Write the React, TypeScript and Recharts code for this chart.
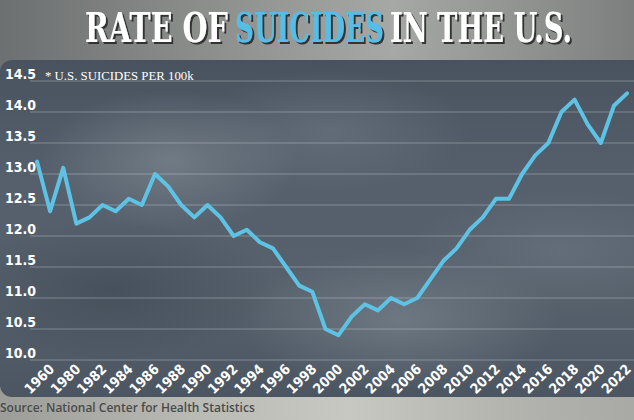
import { LineChart, Line, XAxis, YAxis, CartesianGrid } from "recharts";

// age-adjusted suicide rate per 100k
const YEARS = [
  1950, 1960, 1970, 1980, 1981, 1982, 1983, 1984, 1985, 1986, 1987, 1988,
  1989, 1990, 1991, 1992, 1993, 1994, 1995, 1996, 1997, 1998, 1999, 2000,
  2001, 2002, 2003, 2004, 2005, 2006, 2007, 2008, 2009, 2010, 2011, 2012,
  2013, 2014, 2015, 2016, 2017, 2018, 2019, 2020, 2021, 2022,
];

const RATES = [
  13.2, 12.4, 13.1, 12.2, 12.3, 12.5, 12.4, 12.6, 12.5, 13.0, 12.8, 12.5,
  12.3, 12.5, 12.3, 12.0, 12.1, 11.9, 11.8, 11.5, 11.2, 11.1, 10.5, 10.4,
  10.7, 10.9, 10.8, 11.0, 10.9, 11.0, 11.3, 11.6, 11.8, 12.1, 12.3, 12.6,
  12.6, 13.0, 13.3, 13.5, 14.0, 14.2, 13.8, 13.5, 14.1, 14.3,
];

const TICK_YEARS = [
  1960, 1980, 1982, 1984, 1986, 1988, 1990, 1992, 1994, 1996, 1998, 2000,
  2002, 2004, 2006, 2008, 2010, 2012, 2014, 2016, 2018, 2020, 2022,
];

const Y_TICKS = [10, 10.5, 11, 11.5, 12, 12.5, 13, 13.5, 14, 14.5];

// title pieces: [text, left x, right x, colour]
const TITLE: [string, number, number, string][] = [
  ["RATE OF", 85, 228, "#ffffff"],
  ["SUICIDES", 235, 384, "#56bde6"],
  ["IN THE U.S.", 390, 572, "#ffffff"],
];

const data = YEARS.map((year, i) => ({ year, rate: RATES[i] }));

const NARROW = "'Liberation Sans Narrow', 'DejaVu Sans Condensed', sans-serif";
const SLAB = "'DejaVu Serif Condensed', 'DejaVu Serif', serif";
const TITLE_SIZE = 41;

// natural width of a title piece, so it can be squeezed with a transform
function measure(text: string) {
  if (typeof document === "undefined") return text.length * 24;
  const ctx = document.createElement("canvas").getContext("2d");
  if (!ctx) return text.length * 24;
  ctx.font = `bold ${TITLE_SIZE}px ${SLAB}`;
  return ctx.measureText(text).width;
}

function XTick(props: any) {
  const { x, payload } = props;
  if (!TICK_YEARS.includes(payload.value)) return <g />;
  return (
    <g transform={`translate(${x + 5},370)`}>
      <text
        textAnchor="end"
        transform="rotate(-45)"
        fill="#ffffff"
        fontFamily={NARROW}
        fontWeight="bold"
        fontSize={14}
      >
        {payload.value}
      </text>
    </g>
  );
}

function YTick(props: any) {
  const { y, payload } = props;
  return (
    <text
      x={5}
      y={y - 2}
      textAnchor="start"
      fill="#ffffff"
      fontFamily={NARROW}
      fontWeight="bold"
      fontSize={14}
    >
      {payload.value.toFixed(1)}
    </text>
  );
}

export default function App() {
  return (
    <div
      style={{
        position: "relative",
        width: 634,
        height: 420,
        overflow: "hidden",
        background: "#8c8e8c",
      }}
    >
      <style>{`body{margin:0}`}</style>

      {/* top band behind the title */}
      <div
        style={{
          position: "absolute",
          left: 0,
          top: 0,
          width: 634,
          height: 70,
          background:
            "linear-gradient(to right, #6c7070 0%, #8a8c8a 30%, #a6a8a5 62%, #8e908e 85%, #7c7f7e 100%)",
        }}
      />

      {/* bottom band behind the source */}
      <div
        style={{
          position: "absolute",
          left: 0,
          top: 380,
          width: 634,
          height: 40,
          background:
            "linear-gradient(to right, #9c9d98 0%, #b9bab4 30%, #c8c8c2 55%, #b3b4ae 80%, #a9aaa5 100%)",
        }}
      />

      {/* dark panel */}
      <div
        style={{
          position: "absolute",
          left: 0,
          top: 60,
          width: 650,
          height: 337,
          borderRadius: "12px 0 0 12px",
          background: [
            "radial-gradient(ellipse 130px 70px at 170px 100px, rgba(150,158,166,0.45), rgba(150,158,166,0))",
            "radial-gradient(ellipse 160px 70px at 400px 260px, rgba(150,158,166,0.4), rgba(150,158,166,0))",
            "radial-gradient(ellipse 140px 60px at 330px 70px, rgba(140,148,158,0.3), rgba(140,148,158,0))",
            "radial-gradient(ellipse 150px 60px at 560px 190px, rgba(140,148,158,0.25), rgba(140,148,158,0))",
            "radial-gradient(ellipse 170px 70px at 110px 230px, rgba(40,50,62,0.35), rgba(40,50,62,0))",
            "linear-gradient(#48535f 0%, #55606c 35%, #56616c 70%, #4b5662 100%)",
          ].join(","),
        }}
      />

      <div style={{ position: "absolute", left: 0, top: 0 }}>
        <LineChart
          width={634}
          height={420}
          data={data}
          margin={{ top: 81, right: 0, bottom: 0, left: 0 }}
        >
          <CartesianGrid
            horizontal
            vertical={false}
            stroke="rgba(220,225,230,0.35)"
            strokeWidth={1}
          />
          <XAxis
            dataKey="year"
            type="category"
            interval={0}
            tick={(p: any) => <XTick {...p} />}
            tickLine={false}
            axisLine={false}
            height={60}
            padding={{ left: 7, right: 7 }}
          />
          <YAxis
            domain={[10, 14.5]}
            ticks={Y_TICKS}
            width={30}
            tick={(p: any) => <YTick {...p} />}
            tickLine={false}
            axisLine={false}
          />
          <Line
            type="linear"
            dataKey="rate"
            stroke="#5ec2e4"
            strokeWidth={4}
            strokeLinejoin="round"
            strokeLinecap="round"
            dot={false}
            isAnimationActive={false}
          />
        </LineChart>
      </div>

      <svg
        width={634}
        height={420}
        style={{ position: "absolute", left: 0, top: 0, pointerEvents: "none" }}
      >
        <defs>
          <filter id="shadow" x="-5%" y="-20%" width="110%" height="150%">
            <feDropShadow dx="2" dy="2" stdDeviation="0.6" floodColor="#2b2b2b" floodOpacity="0.9" />
          </filter>
        </defs>
        <g filter="url(#shadow)">
          {TITLE.map(([t, x0, x1, c]) => {
            const sx = (x1 - x0) / measure(t);
            return (
              <text
                key={t}
                transform={`translate(${x0},42) scale(${sx},1)`}
                fontFamily={SLAB}
                fontWeight="bold"
                fontSize={TITLE_SIZE}
                fill={c}
              >
                {t}
              </text>
            );
          })}
        </g>
        <text
          x={45}
          y={80}
          fontFamily="'Liberation Serif', serif"
          fontSize={12.8}
          fill="#ffffff"
        >
          * U.S. SUICIDES PER 100k
        </text>
        <text
          x={0}
          y={412}
          fontFamily="'Open Sans', sans-serif"
          fontWeight={600}
          fontSize={12}
          fill="#4a4b4a"
        >
          Source: National Center for Health Statistics
        </text>
      </svg>
    </div>
  );
}
